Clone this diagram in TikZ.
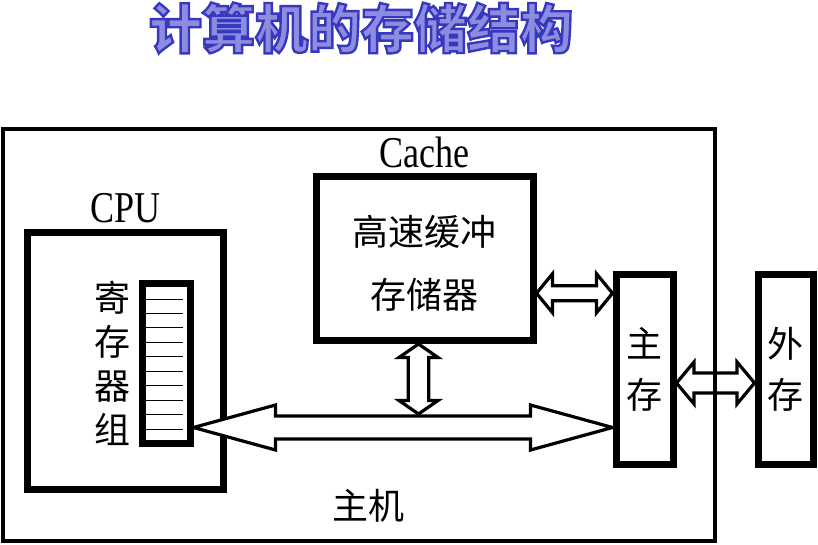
\documentclass[tikz,border=0pt]{standalone}
\usepackage{fontspec}
\usepackage{xcolor}
\setmainfont{Liberation Serif}
\newfontfamily\cjk{Noto Sans CJK SC}
\usetikzlibrary{
    calc,
    positioning
}

\definecolor{titlefill}{RGB}{140,140,225}

% fat hollow double arrows, given by their two tips
\newcommand{\hfat}[5]{%
  \draw[fatarrow] let \p1=#1, \p2=#2 in
    (\x1,\y1) -- (\x1+#5,\y1+#4) -- (\x1+#5,\y1+#3) -- (\x2-#5,\y1+#3)
    -- (\x2-#5,\y1+#4) -- (\x2,\y1) -- (\x2-#5,\y1-#4) -- (\x2-#5,\y1-#3)
    -- (\x1+#5,\y1-#3) -- (\x1+#5,\y1-#4) -- cycle;}
\newcommand{\vfat}[5]{%
  \draw[fatarrow] let \p1=#1, \p2=#2 in
    (\x1,\y1) -- (\x1+#4,\y1-#5) -- (\x1+#3,\y1-#5) -- (\x1+#3,\y2+#5)
    -- (\x1+#4,\y2+#5) -- (\x1,\y2) -- (\x1-#4,\y2+#5) -- (\x1-#3,\y2+#5)
    -- (\x1-#3,\y1-#5) -- (\x1-#4,\y1-#5) -- cycle;}
% outlined text: fill, then a blue stroke round the glyphs
\newcommand{\outlined}[1]{%
  \special{pdf:literal direct 2 Tr 2.4 w 0.22 0.22 0.75 RG}#1%
  \special{pdf:literal direct 0 Tr 0 G}}

\begin{document}
\begin{tikzpicture}[
x=1pt, y=-1pt,
box/.style={
draw,
line width=7pt,
inner sep=0pt
},
fatarrow/.style={
draw,
fill=white,
line width=3.2pt,
line join=miter
},
lbl/.style={
inner sep=0pt,
xscale=0.82,
font=\fontsize{44}{44}\selectfont
},
cjklbl/.style={
inner sep=0pt,
align=center,
font=\fontsize{36}{#1}\selectfont\cjk
},
cjklbl/.default=44
]
\useasboundingbox (0,0) rectangle (818,545);

\node[inner sep=0pt, text=titlefill,
font=\fontsize{53}{53}\selectfont\cjk\bfseries] (title) at (361,28)
{\outlined{计算机的存储结构}};

% boxes
\node[box, minimum width=216.5pt, minimum height=164pt] (cache) at (424.75,258.5) {};
\node[box, minimum width=196pt, minimum height=257pt] (cpu) at (125.5,360.5) {};
\node[box, minimum width=47.5pt, minimum height=159.5pt] (reg) at (166.25,363.25) {};
\node[box, minimum width=57pt, minimum height=190.5pt, cjklbl=51] (mem) at (644.5,369.25) {主\\存};
\node[box, minimum width=55.5pt, minimum height=190.5pt, cjklbl=51] (ext) at (785.75,369.25) {外\\存};

% register cells
\foreach \i in {0,...,9}
  \draw[line width=0.9pt] (146,299+14.44*\i) -- (183,299+14.44*\i);

% labels
\node[lbl, above=5pt of cache] (cachelbl) {Cache};
\node[lbl, above=5pt of cpu] (cpulbl) {CPU};
\node[cjklbl=63] (cachetxt) at ([yshift=-5pt]cache.center) {高速缓冲\\存储器};
\node[cjklbl, left=8pt of reg] (regtxt) {寄\\存\\器\\组};
\node[cjklbl] (hosttxt) at (368,506) {主机};

% connectors
\coordinate (busy) at (0,427.5);
\coordinate (bustop) at (418.5,414);
\hfat{(reg.east |- busy)}{(mem.west |- busy)}{11.5pt}{22.5pt}{82pt}
\vfat{(bustop |- cache.south)}{(bustop)}{10.25pt}{19.5pt}{13.5pt}
\hfat{([yshift=-34.75pt]cache.east)}{(mem.west |- 0,304)}{7.5pt}{19.5pt}{16pt}
\hfat{([yshift=-13.75pt]mem.east)}{([yshift=-13.75pt]ext.west)}{10pt}{21pt}{17.5pt}

% host frame on top
\node[draw, line width=3.5pt, inner sep=0pt,
minimum width=712pt, minimum height=412pt] (host) at (359,335) {};

\end{tikzpicture}
\end{document}
